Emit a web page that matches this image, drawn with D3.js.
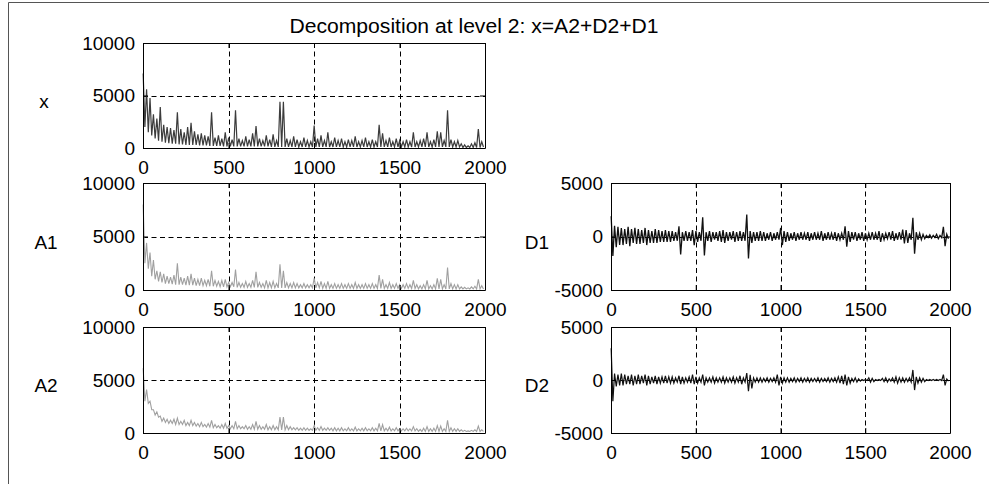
<!DOCTYPE html>
<html>
<head>
<meta charset="utf-8">
<script src="https://cdn.jsdelivr.net/npm/d3@7"></script>
<style>
  body { margin: 0; background: #fff; }
  text { font-family: "Liberation Sans", Arial, sans-serif; fill: #000; }
</style>
</head>
<body>
<div id="chart"></div>
<script>
// ---- data ----
var title = "Decomposition at level 2: x=A2+D2+D1"
var xTicks = [0, 500, 1000, 1500, 2000]
var ticksPos = [0, 5000, 10000]
var ticksSym = [-5000, 0, 5000]
var binSize = 20   // each value below = max / min of 20 samples

var xHi = [7100,5600,4750,3200,2800,3900,2200,2000,1900,1700,
  3400,1800,1500,2000,2400,1600,1300,1400,1200,1100,
  3400,1000,1200,900,1500,1000,800,3600,900,700,
  1100,800,1400,2100,900,700,1200,800,1300,700,
  4400,4400,900,700,1100,800,600,1000,700,600,
  2150,900,1200,700,1500,600,1000,700,900,600,
  800,700,1100,600,700,1000,600,800,600,2200,
  1400,700,1000,600,900,700,600,800,600,1500,
  600,700,900,1500,600,800,1600,1500,700,3600,
  800,600,700,400,300,200,400,500,1800,600]
var xLo = [2000,1500,1200,900,700,600,500,450,400,400,
  350,350,300,300,300,300,250,250,250,200,
  200,200,200,150,150,150,150,150,150,150,
  150,150,150,150,150,150,150,100,100,100,
  100,100,100,100,100,100,100,100,100,100,
  100,100,100,100,100,100,100,100,100,100,
  100,100,100,100,100,100,100,100,100,100,
  100,100,100,100,100,100,100,100,100,100,
  100,100,100,100,100,100,100,100,100,100,
  100,100,100,50,50,50,50,50,50,100]

var a1Hi = [8000,4400,3500,2800,1800,1700,1500,1300,1200,1400,
  2500,1200,1100,1300,1500,1100,1000,1100,900,1000,
  1800,900,800,900,1000,700,700,1900,700,600,
  800,600,900,1700,700,600,900,700,800,600,
  2400,1800,700,600,700,600,500,600,500,500,
  1100,700,800,600,800,500,600,500,600,500,
  600,500,700,500,500,600,500,600,500,1400,
  1000,500,700,500,600,500,500,600,500,900,
  500,400,500,900,400,500,1100,1000,500,2100,
  600,500,500,300,250,200,300,350,1000,400]
var a1Lo = [2500,2000,1300,1000,800,700,600,600,550,500,
  500,500,450,450,450,400,400,400,400,350,
  350,350,300,300,300,300,300,250,250,250,
  250,250,250,250,250,200,200,200,200,200,
  200,200,200,200,200,200,200,200,200,200,
  200,200,150,150,150,150,150,150,150,150,
  150,150,150,150,150,150,150,150,150,150,
  150,150,150,150,150,150,150,150,150,150,
  100,100,100,100,100,100,100,100,100,100,
  100,100,100,100,100,100,100,100,100,100]

var a2Hi = [6100,4100,3000,2200,2000,1600,1400,1300,1200,1300,
  1400,1100,1200,1000,1200,1000,900,1000,800,900,
  1200,800,700,800,900,700,700,1100,700,600,
  700,600,800,1100,700,600,800,600,700,600,
  1500,1500,700,600,500,500,450,500,450,400,
  700,500,600,450,500,450,500,450,500,400,
  500,400,550,400,450,500,400,500,450,900,
  800,450,550,400,500,400,400,450,400,600,
  400,350,450,600,400,450,700,650,400,1200,
  500,400,400,300,250,200,250,300,650,300]
var a2Lo = [3000,2800,2200,1700,1500,1100,1000,900,900,800,
  800,800,700,700,700,650,600,600,550,550,
  500,500,450,450,450,400,400,400,400,400,
  350,350,350,350,350,350,300,300,300,300,
  300,300,300,300,300,250,250,250,250,250,
  250,250,250,250,250,200,200,200,200,200,
  200,200,200,200,200,200,200,200,200,200,
  200,200,200,200,200,200,200,200,200,200,
  150,150,150,150,150,150,150,150,150,150,
  150,150,150,150,150,150,150,150,150,150]

var d1Hi = [1900,1000,900,800,700,900,700,800,700,600,
  800,600,500,700,600,500,600,500,500,400,
  960,400,500,400,600,500,400,1800,400,500,
  400,400,500,600,400,400,500,400,500,400,
  2050,500,400,400,500,400,300,400,300,400,
  800,500,400,300,400,300,400,300,400,300,
  400,300,500,300,400,300,400,300,300,950,
  500,400,400,300,400,300,300,400,300,500,
  300,300,400,500,300,400,650,600,300,1740,
  400,300,200,100,150,100,200,100,900,200]
var d1Lo = [-1830,-1000,-800,-800,-700,-900,-600,-700,-700,-600,
  -800,-600,-600,-600,-500,-500,-500,-500,-400,-400,
  -1680,-400,-400,-400,-800,-500,-400,-1770,-400,-500,
  -300,-400,-500,-600,-400,-300,-500,-400,-400,-400,
  -2050,-600,-400,-400,-400,-400,-300,-400,-300,-300,
  -800,-500,-400,-300,-400,-300,-300,-300,-400,-300,
  -300,-300,-400,-300,-300,-300,-400,-300,-300,-950,
  -500,-300,-400,-300,-400,-300,-300,-300,-300,-500,
  -300,-200,-300,-400,-300,-300,-650,-600,-300,-1600,
  -300,-300,-200,-100,-150,-100,-200,-100,-900,-200]

var d2Hi = [3000,600,500,600,500,400,500,400,500,400,
  500,400,300,400,300,300,400,300,300,200,
  400,300,200,300,500,300,200,500,200,200,
  300,200,200,300,200,200,300,200,400,200,
  650,500,200,200,200,150,200,150,200,500,
  300,200,200,150,200,150,200,150,200,150,
  150,200,150,150,200,150,200,300,400,500,
  300,150,200,100,50,50,200,150,50,50,
  150,200,100,200,300,200,200,150,200,950,
  300,200,150,50,50,50,50,50,500,100]
var d2Lo = [-2000,-600,-500,-500,-400,-400,-500,-400,-400,-300,
  -500,-400,-300,-400,-300,-300,-300,-300,-300,-200,
  -400,-300,-200,-300,-400,-300,-200,-500,-200,-200,
  -300,-200,-200,-300,-200,-200,-300,-200,-400,-200,
  -1050,-800,-200,-200,-200,-150,-200,-150,-200,-500,
  -300,-200,-200,-150,-200,-150,-200,-150,-200,-150,
  -150,-200,-150,-150,-200,-150,-200,-300,-400,-500,
  -300,-150,-200,-100,-50,-50,-200,-150,-50,-50,
  -150,-200,-100,-200,-300,-200,-200,-150,-200,-950,
  -300,-200,-150,-50,-50,-50,-50,-50,-500,-100]

// ---- layout ----
var W = 989, H = 484
var leftCol = [143, 485], rightCol = [611, 950]
var rows = [[43, 148], [183, 290], [327, 433]]

var panels = [
  { label: "x",  hi: xHi,  lo: xLo,  ticks: ticksPos, color: "#3c3c3c", sw: 1.2, cols: leftCol,  row: rows[0], lx: 44 },
  { label: "A1", hi: a1Hi, lo: a1Lo, ticks: ticksPos, color: "#a0a0a0", sw: 1.1, cols: leftCol,  row: rows[1], lx: 46 },
  { label: "A2", hi: a2Hi, lo: a2Lo, ticks: ticksPos, color: "#a0a0a0", sw: 1.1, cols: leftCol,  row: rows[2], lx: 46 },
  { label: "D1", hi: d1Hi, lo: d1Lo, ticks: ticksSym, color: "#111", sw: 1.3, cols: rightCol, row: rows[1], lx: 537 },
  { label: "D2", hi: d2Hi, lo: d2Lo, ticks: ticksSym, color: "#111", sw: 1.2, cols: rightCol, row: rows[2], lx: 537 }
]

var svg = d3.select("#chart").append("svg")
  .attr("width", W).attr("height", H)

// figure frame (only top and left edges are visible in the crop)
svg.append("line").attr("x1", 8.5).attr("x2", W).attr("y1", 2.5).attr("y2", 2.5)
  .attr("stroke", "#555")
svg.append("line").attr("x1", 8.5).attr("x2", 8.5).attr("y1", 2.5).attr("y2", H)
  .attr("stroke", "#555")

svg.append("text")
  .attr("x", 474).attr("y", 33)
  .attr("text-anchor", "middle")
  .attr("textLength", 369)
  .attr("lengthAdjust", "spacingAndGlyphs")
  .style("font-size", "20px")
  .text(title)

var fmt = function(d) { return String(d) }

panels.forEach(function(p) {
  var xScale = d3.scaleLinear().domain([0, 2000]).range(p.cols)
  var yScale = d3.scaleLinear().domain([p.ticks[0], p.ticks[2]]).range([p.row[1], p.row[0]])
  var g = svg.append("g")

  // grid
  g.selectAll(".vgrid").data(xTicks.slice(1, -1)).enter().append("line")
    .attr("x1", function(d) { return Math.round(xScale(d)) + 0.5 })
    .attr("x2", function(d) { return Math.round(xScale(d)) + 0.5 })
    .attr("y1", p.row[0]).attr("y2", p.row[1])
    .attr("stroke", "#000").attr("stroke-dasharray", "5,3.5")
  g.append("line")
    .attr("x1", p.cols[0]).attr("x2", p.cols[1])
    .attr("y1", Math.round(yScale(p.ticks[1])) + 0.5)
    .attr("y2", Math.round(yScale(p.ticks[1])) + 0.5)
    .attr("stroke", "#000").attr("stroke-dasharray", "5,3.5")

  // signal: one max and one min point per bin
  var pts = []
  p.hi.forEach(function(v, i) {
    pts.push([i * binSize + 1, v])
    pts.push([i * binSize + 11, p.lo[i]])
  })
  var line = d3.line()
    .x(function(d) { return xScale(d[0]) })
    .y(function(d) { return yScale(d[1]) })
  g.append("path").datum(pts)
    .attr("d", line)
    .attr("fill", "none")
    .attr("stroke", p.color)
    .attr("stroke-width", p.sw)

  // axes with inward ticks, box all round
  var bottom = g.append("g").attr("transform", "translate(0," + p.row[1] + ")")
    .call(d3.axisBottom(xScale).tickValues(xTicks).tickFormat(fmt).tickSizeInner(-5).tickSizeOuter(0).tickPadding(9))
  var top = g.append("g").attr("transform", "translate(0," + p.row[0] + ")")
    .call(d3.axisTop(xScale).tickValues(xTicks).tickSizeInner(-5).tickSizeOuter(0).tickFormat(""))
  var left = g.append("g").attr("transform", "translate(" + p.cols[0] + ",0)")
    .call(d3.axisLeft(yScale).tickValues(p.ticks).tickFormat(fmt).tickSizeInner(-5).tickSizeOuter(0).tickPadding(8))
  var right = g.append("g").attr("transform", "translate(" + p.cols[1] + ",0)")
    .call(d3.axisRight(yScale).tickValues(p.ticks).tickSizeInner(-5).tickSizeOuter(0).tickFormat(""))

  ;[bottom, top, left, right].forEach(function(a) {
    a.select(".domain").attr("stroke", "#000")
    a.selectAll(".tick line").attr("stroke", "#000")
    a.selectAll("text").style("font-size", "19px").attr("fill", "#000")
      .style("font-family", '"Liberation Sans", Arial, sans-serif')
  })
  bottom.selectAll("text").attr("dy", "0.9em")

  svg.append("text")
    .attr("x", p.lx).attr("y", (p.row[0] + p.row[1]) / 2 + 12)
    .attr("text-anchor", "middle")
    .style("font-size", "19px")
    .text(p.label)
})
</script>
</body>
</html>
